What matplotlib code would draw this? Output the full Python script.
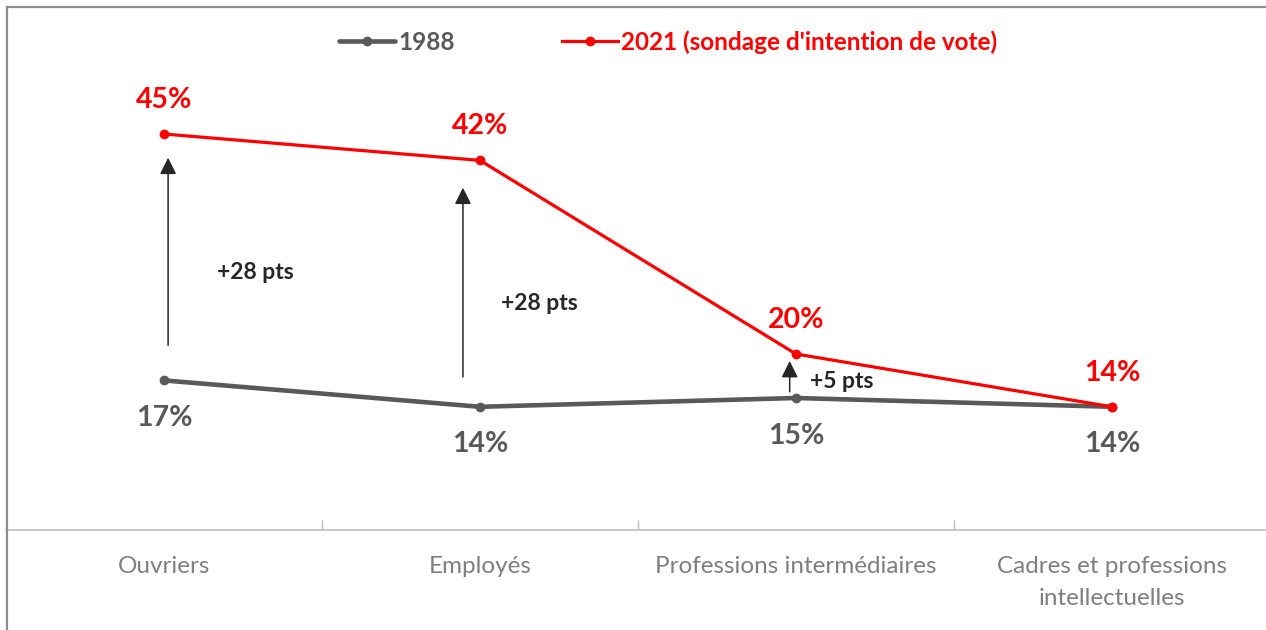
import matplotlib.pyplot as plt
from matplotlib.lines import Line2D

# Data
categories = ["Ouvriers", "Employés", "Professions intermédiaires",
              "Cadres et professions\nintellectuelles"]
vote_1988 = [17, 14, 15, 14]
vote_2021 = [45, 42, 20, 14]
series_names = ["1988", "2021 (sondage d'intention de vote)"]
gain_labels = ["+28 pts", "+28 pts", "+5 pts"]

GREY = "#595959"
RED = "#ff0000"
DARK = "#262626"

plt.rcParams["font.family"] = ["Lato", "DejaVu Sans"]

fig = plt.figure(figsize=(12.66, 6.3), dpi=100)
# axes spans 6..1270 px horizontally, 90..530 px vertically
ax = fig.add_axes([6 / 1266, 100 / 630, 1264 / 1266, 440 / 630])

x = list(range(len(categories)))
ax.plot(x, vote_1988, color=GREY, lw=3.3, marker="o", ms=6,
        solid_capstyle="round", label=series_names[0], zorder=3)
ax.plot(x, vote_2021, color=RED, lw=2.3, marker="o", ms=6,
        label=series_names[1], zorder=4)

# value labels
for xi, v in zip(x, vote_1988):
    ax.annotate(f"{v}%", (xi, v), xytext=(0, -27), textcoords="offset points",
                ha="center", va="center", color=GREY, fontsize=20.5,
                fontweight="bold")
for xi, v in zip(x, vote_2021):
    ax.annotate(f"{v}%", (xi, v), xytext=(0, 24.5), textcoords="offset points",
                ha="center", va="center", color=RED, fontsize=20.5,
                fontweight="bold")

# arrows showing the gain between the two years
arrow_x = [0.013, 0.946, 1.98]
arrow_tail = [21.0, 17.4, 15.7]
arrow_tip = [42.3, 38.9, 19.2]
text_pos = [(0.288, 29.3), (1.187, 25.7), (2.146, 16.9)]
for ax_x, t0, t1, lab, (tx, ty) in zip(arrow_x, arrow_tail, arrow_tip,
                                       gain_labels, text_pos):
    ax.annotate("", xy=(ax_x, t1), xytext=(ax_x, t0),
                arrowprops=dict(arrowstyle="-|>,head_length=0.4,head_width=0.2",
                                mutation_scale=25, lw=1.1, color=DARK,
                                shrinkA=0, shrinkB=0))
    ax.text(tx, ty, lab, ha="center", va="center", color=DARK,
            fontsize=16.5, fontweight="bold")

ax.set_xlim(-0.5, len(categories) - 0.5)
ax.set_ylim(0, 50)
ax.set_yticks([])
ax.set_xticks(x)
ax.set_xticklabels(categories, color="#7f7f7f", fontsize=17.5,
                   linespacing=1.6)
ax.tick_params(axis="x", which="major", length=0, pad=19)
ax.set_xticks([0.5, 1.5, 2.5], minor=True)
ax.tick_params(axis="x", which="minor", direction="in", length=7,
               color="#bfbfbf", width=1)
for side in ["top", "right", "left"]:
    ax.spines[side].set_visible(False)
ax.spines["bottom"].set_color("#bfbfbf")
ax.spines["bottom"].set_linewidth(1.2)

leg = ax.legend(loc="center", bbox_to_anchor=(668 / 1266, 1 - 42 / 630),
                bbox_transform=fig.transFigure, ncol=2, frameon=False,
                handlelength=2.3, columnspacing=4.4, handletextpad=0.15,
                borderpad=0, prop={"weight": "bold", "size": 17.5})
for txt, col in zip(leg.get_texts(), [GREY, RED]):
    txt.set_color(col)

# frame on top and left of the picture
fig.add_artist(Line2D([6.5 / 1266, 6.5 / 1266], [0, 1 - 6.5 / 630],
                      transform=fig.transFigure, color="#8c8c8c", lw=1.6))
fig.add_artist(Line2D([6.5 / 1266, 1], [1 - 6.5 / 630, 1 - 6.5 / 630],
                      transform=fig.transFigure, color="#8c8c8c", lw=1.6))

fig.savefig("out.png", dpi=100)
